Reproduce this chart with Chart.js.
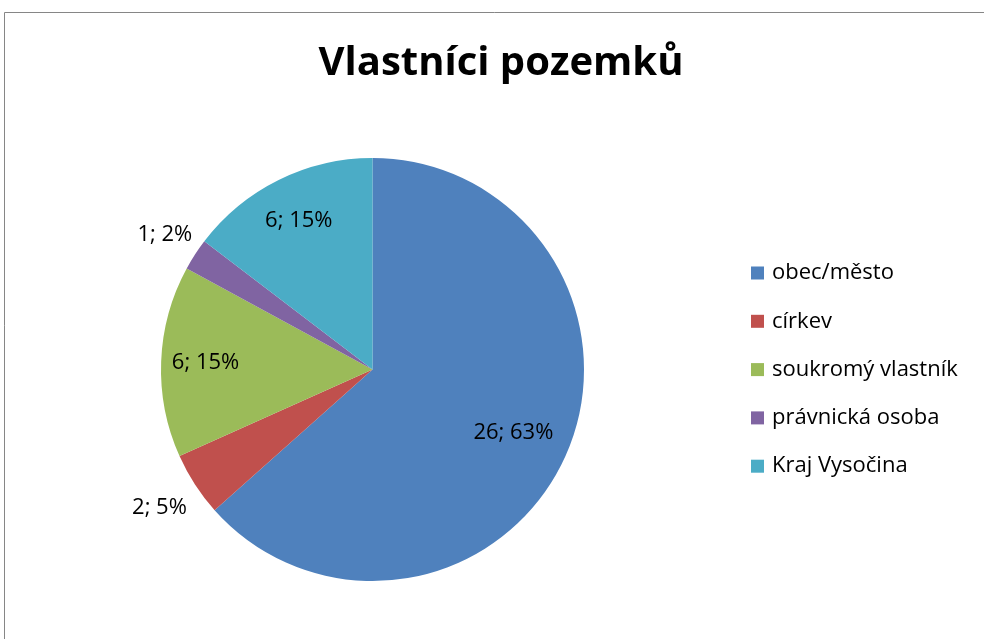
<!DOCTYPE html>
<html>
<head>
<meta charset="utf-8">
<script src="https://cdn.jsdelivr.net/npm/chart.js@4"></script>
<style>
  html, body { margin: 0; padding: 0; background: #fff; overflow: hidden; }
  #c { display: block; }
</style>
</head>
<body>
<canvas id="c" width="984" height="639"></canvas>
<script>
const chartTitle = 'Vlastníci pozemků';
const categories = ['obec/město', 'církev', 'soukromý vlastník', 'právnická osoba', 'Kraj Vysočina'];
const counts = [26, 2, 6, 1, 6];
const colors = ['#4F81BD', '#C0504D', '#9BBB59', '#8064A2', '#4BACC6'];
// how far from the centre each data label sits (fraction of radius)
const labelDist = [0.73, 1.2, 0.79, 1.17, 0.785];

const fontFamily = '"Open Sans", Lato, sans-serif';

const total = counts.reduce((a, b) => a + b, 0);

const decorPlugin = {
  id: 'decor',
  beforeDraw(chart) {
    // chart frame (only top and left edges are visible)
    const ctx = chart.ctx;
    ctx.save();
    ctx.strokeStyle = '#868686';
    ctx.lineWidth = 1;
    ctx.beginPath();
    ctx.moveTo(4.5, chart.height);
    ctx.lineTo(4.5, 12.5);
    ctx.lineTo(chart.width, 12.5);
    ctx.stroke();
    ctx.restore();
  },
  afterDraw(chart) {
    const ctx = chart.ctx;
    ctx.save();

    // title
    ctx.fillStyle = '#000';
    ctx.font = 'bold 40px ' + fontFamily;
    ctx.textAlign = 'center';
    ctx.textBaseline = 'middle';
    ctx.fillText(chartTitle, 501, 64);

    // data labels
    const meta = chart.getDatasetMeta(0);
    ctx.font = '22px ' + fontFamily;
    meta.data.forEach((arc, i) => {
      const mid = (arc.startAngle + arc.endAngle) / 2;
      const d = arc.outerRadius * labelDist[i];
      const x = arc.x + Math.cos(mid) * d;
      const y = arc.y + Math.sin(mid) * d;
      const pct = Math.round(counts[i] / total * 100);
      ctx.fillText(counts[i] + '; ' + pct + '%', x, y);
    });

    // legend
    ctx.textAlign = 'left';
    categories.forEach((name, i) => {
      const y = 273 + i * 48.3;
      ctx.fillStyle = colors[i];
      ctx.fillRect(751, y - 6.5, 13, 13);
      ctx.fillStyle = '#000';
      ctx.fillText(name, 772, y);
    });

    ctx.restore();
  }
};

new Chart(document.getElementById('c'), {
  type: 'pie',
  data: {
    labels: categories,
    datasets: [{
      data: counts,
      backgroundColor: colors,
      borderWidth: 0
    }]
  },
  options: {
    responsive: false,
    animation: false,
    layout: {
      padding: { left: 161, right: 400, top: 158, bottom: 58 }
    },
    plugins: {
      legend: { display: false },
      title: { display: false },
      tooltip: { enabled: false }
    }
  },
  plugins: [decorPlugin]
});
</script>
</body>
</html>
